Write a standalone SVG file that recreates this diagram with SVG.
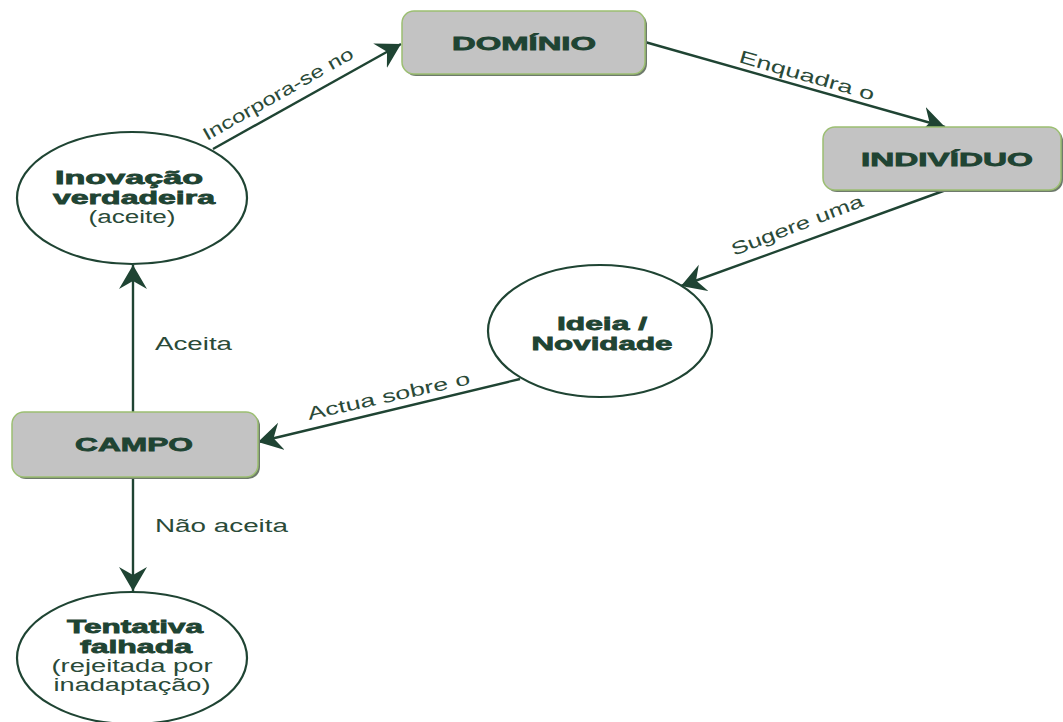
<svg xmlns="http://www.w3.org/2000/svg" width="1063" height="722" viewBox="0 0 1063 722">
  <style>
    .box { fill: #c3c3c3; stroke: #9cbf72; stroke-width: 1.5; }
    .shadow { fill: #6e7a6c; }
    .ell { fill: #ffffff; stroke: #1f4433; stroke-width: 2.2; }
    .edge { stroke: #1f4433; stroke-width: 2.4; fill: none; marker-end: url(#head); }
    .bold { font-family: "Liberation Sans", Arial, sans-serif; font-weight: bold; font-size: 19px; fill: #1f4433; stroke: #1f4433; stroke-width: 0.8; }
    .reg { font-family: "Liberation Sans", Arial, sans-serif; font-size: 18px; fill: #2a4a38; }
  </style>
  <defs>
    <marker id="head" markerUnits="userSpaceOnUse" markerWidth="26" markerHeight="30" refX="24" refY="14" orient="auto" viewBox="0 0 26 30">
      <path d="M0,0 L24,14 L0,28 L8,14 Z" fill="#1f4433"/>
    </marker>
  </defs>

  <rect width="1063" height="722" fill="#ffffff"/>

  <!-- connectors with their labels -->
  <g id="connectors">
    <line class="edge" x1="213" y1="149" x2="401" y2="44"/>
    <line class="edge" x1="645" y1="42" x2="945" y2="127"/>
    <line class="edge" x1="946" y1="190" x2="681" y2="286"/>
    <line class="edge" x1="520" y1="379" x2="258" y2="442"/>
    <line class="edge" x1="133" y1="412" x2="133" y2="265"/>
    <line class="edge" x1="133" y1="477" x2="133" y2="591"/>
    <text class="reg" transform="translate(207,141) rotate(-29.5)" textLength="170" lengthAdjust="spacingAndGlyphs">Incorpora-se no</text>
    <text class="reg" transform="translate(738,62) rotate(16)" textLength="140" lengthAdjust="spacingAndGlyphs">Enquadra o</text>
    <text class="reg" transform="translate(734,256) rotate(-21)" textLength="140" lengthAdjust="spacingAndGlyphs">Sugere uma</text>
    <text class="reg" transform="translate(309,420) rotate(-12.5)" textLength="166" lengthAdjust="spacingAndGlyphs">Actua sobre o</text>
    <text class="reg" x="155" y="350" textLength="77" lengthAdjust="spacingAndGlyphs">Aceita</text>
    <text class="reg" x="155" y="532" textLength="133" lengthAdjust="spacingAndGlyphs">Não aceita</text>
  </g>

  <g id="dominio">
    <rect class="shadow" x="404" y="13" width="243" height="63" rx="12"/>
    <rect class="box" x="402" y="11" width="243" height="63" rx="12"/>
    <text class="bold" x="524" y="50" text-anchor="middle" textLength="144" lengthAdjust="spacingAndGlyphs">DOMÍNIO</text>
  </g>

  <g id="individuo">
    <rect class="shadow" x="825" y="129" width="238" height="63" rx="12"/>
    <rect class="box" x="823" y="127" width="238" height="63" rx="12"/>
    <text class="bold" x="947" y="166" text-anchor="middle" textLength="172" lengthAdjust="spacingAndGlyphs">INDIVÍDUO</text>
  </g>

  <g id="ideia">
    <ellipse class="ell" cx="600" cy="331" rx="112" ry="66"/>
    <text class="bold" x="602" y="330" text-anchor="middle" textLength="90" lengthAdjust="spacingAndGlyphs">Ideia /</text>
    <text class="bold" x="602" y="350" text-anchor="middle" textLength="141" lengthAdjust="spacingAndGlyphs">Novidade</text>
  </g>

  <g id="campo">
    <rect class="shadow" x="14" y="414" width="246" height="65" rx="12"/>
    <rect class="box" x="12" y="412" width="246" height="65" rx="12"/>
    <text class="bold" x="134" y="451" text-anchor="middle" textLength="118" lengthAdjust="spacingAndGlyphs">CAMPO</text>
  </g>

  <g id="inovacao">
    <ellipse class="ell" cx="132" cy="198" rx="115" ry="66"/>
    <text class="bold" x="129" y="184" text-anchor="middle" textLength="148" lengthAdjust="spacingAndGlyphs">Inovação</text>
    <text class="bold" x="134" y="204" text-anchor="middle" textLength="162" lengthAdjust="spacingAndGlyphs">verdadeira</text>
    <text class="reg" x="132" y="223" text-anchor="middle" textLength="87" lengthAdjust="spacingAndGlyphs">(aceite)</text>
  </g>

  <g id="tentativa">
    <ellipse class="ell" cx="132" cy="658" rx="115" ry="66"/>
    <text class="bold" x="135" y="633" text-anchor="middle" textLength="136" lengthAdjust="spacingAndGlyphs">Tentativa</text>
    <text class="bold" x="136" y="653" text-anchor="middle" textLength="112" lengthAdjust="spacingAndGlyphs">falhada</text>
    <text class="reg" x="132" y="672" text-anchor="middle" textLength="161" lengthAdjust="spacingAndGlyphs">(rejeitada por</text>
    <text class="reg" x="132" y="691" text-anchor="middle" textLength="157" lengthAdjust="spacingAndGlyphs">inadaptação)</text>
  </g>
</svg>
